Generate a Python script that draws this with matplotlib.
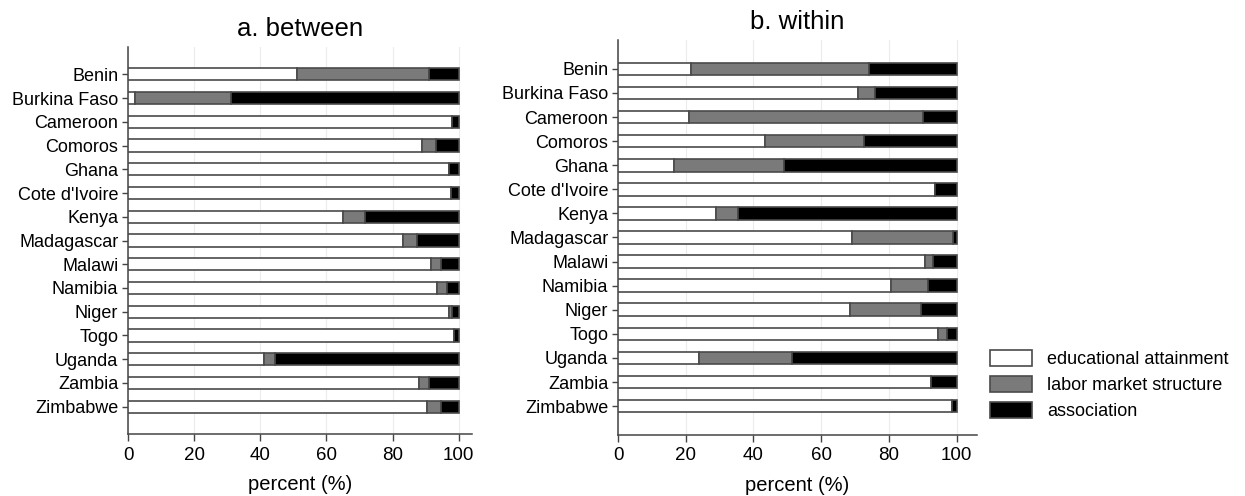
import numpy as np
import matplotlib
matplotlib.use("Agg")
import matplotlib.pyplot as plt
from matplotlib.patches import Patch

plt.rcParams['font.family'] = ['Liberation Sans', 'DejaVu Sans']

countries = ['Benin', 'Burkina Faso', 'Cameroon', 'Comoros', 'Ghana', "Cote d'Ivoire",
             'Kenya', 'Madagascar', 'Malawi', 'Namibia', 'Niger', 'Togo', 'Uganda',
             'Zambia', 'Zimbabwe']
components = ['educational attainment', 'labor market structure', 'association']

# a. between (percent)
between_edu = [51, 2, 98, 89, 97, 97.5, 65, 83, 91.5, 93.5, 97, 98.5, 41, 88, 90.5]
between_lab = [40, 29, 0, 4, 0, 0, 6.5, 4.5, 3, 3, 1, 0, 3.5, 3, 4]
between_ass = [9, 69, 2, 7, 3, 2.5, 28.5, 12.5, 5.5, 3.5, 2, 1.5, 55.5, 9, 5.5]

# b. within (percent)
within_edu = [21.5, 71, 21, 43.5, 16.5, 93.5, 29, 69, 90.5, 80.5, 68.5, 94.5, 24, 92.5, 98.5]
within_lab = [52.5, 5, 69, 29, 32.5, 0, 6.5, 30, 2.5, 11, 21, 2.5, 27.5, 0, 0]
within_ass = [26, 24, 10, 27.5, 51, 6.5, 64.5, 1, 7, 8.5, 10.5, 3, 48.5, 7.5, 1.5]

fills = ['white', '#7a7a7a', 'black']
edge = '#4a4a4a'


def stacked(ax, parts, title, xmax, ypad):
    y = np.arange(len(countries))
    left = np.zeros(len(countries))
    for vals, col in zip(parts, fills):
        vals = np.array(vals, dtype=float)
        ax.barh(y, vals, left=left, height=0.52, color=col, edgecolor=edge,
                linewidth=1.2, zorder=3)
        left += vals
    ax.set_yticks(y)
    ax.set_yticklabels(countries, fontsize=13)
    ax.set_ylim(len(countries) - 1 + ypad, -ypad)
    ax.set_xlim(0, xmax)
    ax.set_xticks([0, 20, 40, 60, 80, 100])
    ax.tick_params(axis='x', labelsize=13.5, length=5, width=1, color='#444', pad=4)
    ax.tick_params(axis='y', length=4, width=1, color='#444', pad=3)
    ax.grid(axis='x', color='#ececec', linewidth=0.8, zorder=0)
    for s in ['top', 'right']:
        ax.spines[s].set_visible(False)
    for s in ['left', 'bottom']:
        ax.spines[s].set_color('#444')
        ax.spines[s].set_linewidth(1.1)
    ax.set_xlabel('percent (%)', fontsize=14.5, labelpad=8)
    ax.set_title(title, fontsize=18.5, pad=8)


fig = plt.figure(figsize=(12.45, 4.96), dpi=100)
W, H = 1245, 496
ax1 = fig.add_axes([128 / W, 1 - 434 / H, (472 - 128) / W, (434 - 47) / H])
ax2 = fig.add_axes([618 / W, 1 - 435 / H, (977 - 618) / W, (435 - 40) / H])

stacked(ax1, [between_edu, between_lab, between_ass], 'a. between', 104, 1.15)
stacked(ax2, [within_edu, within_lab, within_ass], 'b. within', 106, 1.2)

handles = [Patch(facecolor=c, edgecolor=edge, linewidth=1.2, label=l)
           for c, l in zip(fills, components)]
fig.legend(handles=handles, loc='upper left', bbox_to_anchor=(990 / W, 1 - 350 / H),
           frameon=False, fontsize=13, handlelength=2.3, handleheight=0.95,
           handletextpad=0.85, labelspacing=0.45, borderpad=0, borderaxespad=0)

fig.savefig('out.png', dpi=100)
